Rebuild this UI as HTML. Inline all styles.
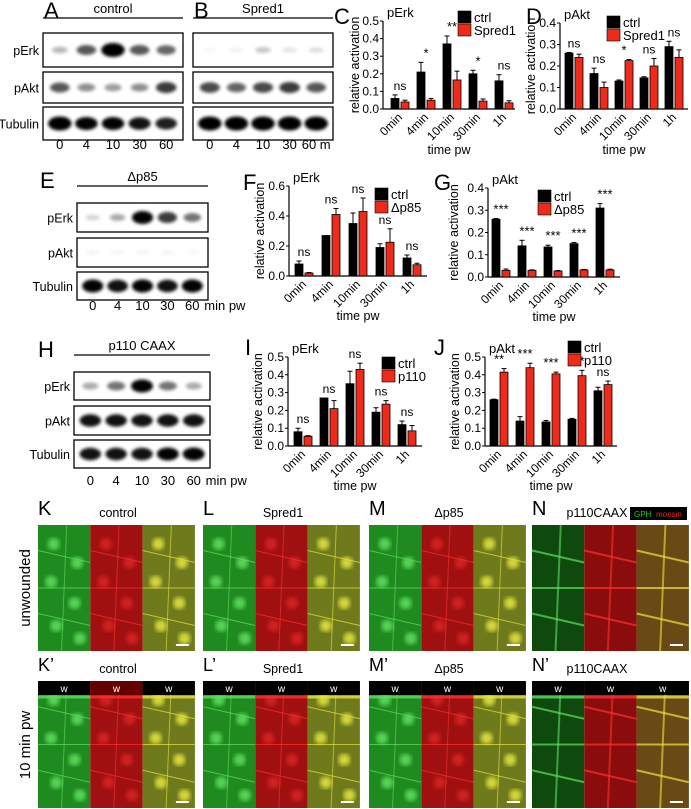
<!DOCTYPE html>
<html><head><meta charset="utf-8"><style>
html,body{margin:0;padding:0;background:#fff;}
svg{display:block;font-family:"Liberation Sans",sans-serif;}
</style></head><body>
<svg id="fig" width="691" height="809" viewBox="0 0 691 809" xmlns="http://www.w3.org/2000/svg">
<defs>
<filter id="blur1" x="-20%" y="-50%" width="140%" height="200%"><feGaussianBlur stdDeviation="1.6"/></filter>
<filter id="blur2"><feGaussianBlur stdDeviation="2.2"/></filter>
</defs>
<g id="blots"></g>
<g id="charts"></g>
<g id="micro"></g>
</svg>
<script>
// ---------- chart data ----------
const cats = ["0min","4min","10min","30min","1h"];
const cCtrl = [0.06,0.21,0.37,0.20,0.16];
const cCtrlErr = [0.02,0.055,0.045,0.02,0.035];
const cTreat = [0.04,0.05,0.165,0.045,0.035];
const cTreatErr = [0.01,0.01,0.05,0.012,0.012];
const cSig = ["ns","*","**","*","ns"];
const cTicks = ["0.0","0.1","0.2","0.3","0.4","0.5"];

const dCtrl = [0.26,0.165,0.13,0.145,0.29];
const dCtrlErr = [0.003,0.025,0.005,0.005,0.025];
const dTreat = [0.24,0.10,0.225,0.20,0.24];
const dTreatErr = [0.015,0.025,0.005,0.035,0.035];
const dSig = ["ns","ns","*","ns","ns"];
const dTicks = ["0.0","0.1","0.2","0.3","0.4"];

const fCtrl = [0.08,0.27,0.35,0.19,0.12];
const fCtrlErr = [0.02,0,0.07,0.025,0.02];
const fTreat = [0.02,0.41,0.43,0.225,0.075];
const fTreatErr = [0.003,0.04,0.09,0.09,0.01];
const fSig = ["ns","ns","ns","ns","ns"];
const fTicks = ["0.0","0.2","0.4","0.6"];

const gCtrl = [0.26,0.14,0.135,0.15,0.31];
const gCtrlErr = [0.003,0.025,0.008,0.005,0.02];
const gTreat = [0.03,0.03,0.027,0.032,0.032];
const gTreatErr = [0.006,0.002,0.002,0.002,0.003];
const gSig = ["***","***","***","***","***"];
const gTicks = ["0.0","0.1","0.2","0.3","0.4"];

const iCtrl = [0.08,0.27,0.35,0.19,0.12];
const iCtrlErr = [0.02,0,0.07,0.025,0.02];
const iTreat = [0.055,0.21,0.43,0.235,0.085];
const iTreatErr = [0.003,0.045,0.035,0.02,0.03];
const iSig = ["ns","ns","ns","ns","ns"];
const iTicks = ["0.0","0.1","0.2","0.3","0.4","0.5"];

const jCtrl = [0.26,0.14,0.135,0.15,0.31];
const jCtrlErr = [0.003,0.025,0.008,0.005,0.02];
const jTreat = [0.415,0.44,0.405,0.395,0.345];
const jTreatErr = [0.02,0.025,0.01,0.03,0.02];
const jSig = ["**","***","***","***","ns"];
const jTicks = ["0.0","0.1","0.2","0.3","0.4","0.5"];

const NS="http://www.w3.org/2000/svg";
function mk(parent,tag,attrs,text){const e=document.createElementNS(NS,tag);for(const k in attrs)e.setAttribute(k,attrs[k]);if(text!==undefined)e.textContent=text;parent.appendChild(e);return e;}

function chart(o){
  const g=mk(document.getElementById('charts'),'g',{});
  
  
  const ymax=parseFloat(o.ticks[o.ticks.length-1]);
  const y=v=>o.y0-(v/ymax)*(o.y0-o.yTop);
  const xg=i=>o.x0+o.off+i*o.step;
  const bw=8;
  const L=mk(g,'text',{x:o.lx,y:o.ly,'font-size':22},o.letter);
  
  const T=mk(g,'text',{x:o.x0+4,y:o.yTop-4,'font-size':13},o.title);
  
  const ya=mk(g,'line',{x1:o.x0,y1:o.yTop,x2:o.x0,y2:o.y0,stroke:'#000','stroke-width':1.2});
  
  o.ticks.forEach(t=>{const v=parseFloat(t);const yy=y(v);
    mk(g,'line',{x1:o.x0-3,y1:yy,x2:o.x0,y2:yy,stroke:'#000'});
    const tl=mk(g,'text',{x:o.x0-4,y:yy+4,'font-size':12,'text-anchor':'end'},t);
    });
  const xa=mk(g,'line',{x1:o.x0,y1:o.y0,x2:o.xEnd,y2:o.y0,stroke:'#000','stroke-width':1.2});
  
  const yt=mk(g,'text',{x:0,y:0,'font-size':12.5,'text-anchor':'middle',transform:`translate(${o.yl},${(o.y0+o.yTop)/2}) rotate(-90)`},'relative activation');
  
  const xt=mk(g,'text',{x:(o.x0+o.xEnd)/2,y:o.xtY,'font-size':12.5,'text-anchor':'middle'},'time pw');
  
  cats.forEach((c,i)=>{
    const gx=xg(i);
    const series=[[o.ctrl,o.ctrlErr,'#000',gx],[o.treat,o.treatErr,'#ee2a1b',gx+bw+2]];
    let top=0;
    series.forEach(([vals,errs,col,bx],si)=>{
      const v=vals[i],e=errs[i];const yy=y(v);
      const r=mk(g,'rect',{x:bx,y:yy,width:bw,height:o.y0-yy,fill:col,stroke:'#000','stroke-width':0.8});
      
      if(e>0){const ye=y(v+e);mk(g,'line',{x1:bx+bw/2,y1:yy,x2:bx+bw/2,y2:ye,stroke:'#000','stroke-width':1});
        mk(g,'line',{x1:bx+bw/2-2.5,y1:ye,x2:bx+bw/2+2.5,y2:ye,stroke:'#000','stroke-width':1});}
      top=Math.max(top,v+e);
    });
    const s=o.sig[i];
    const st=mk(g,'text',{x:gx+bw+1,y:y(top)-5,'font-size':s==='ns'?12:13,'text-anchor':'middle'},s);
    
    const cl=mk(g,'text',{x:0,y:0,'font-size':12,'text-anchor':'end',transform:`translate(${gx+bw+4},${o.y0+9}) rotate(-45)`},c);
    
  });
  const lg=mk(g,'g',{});
  
  [['ctrl','#000'],[o.tname,'#ee2a1b']].forEach(([n,col],k)=>{
    const yy=o.legY+k*13;
    const sq=mk(lg,'rect',{x:o.legX,y:yy,width:13,height:12,fill:col,stroke:'#000','stroke-width':0.6});
    
    const tx=mk(lg,'text',{x:o.legX+16,y:yy+11,'font-size':13},n);
    
  });
}
chart({id:'c',letter:'C',lx:334,ly:24,title:'pErk',x0:383,xEnd:515,y0:109,yTop:21,off:8,step:26,ticks:cTicks,ctrl:cCtrl,ctrlErr:cCtrlErr,treat:cTreat,treatErr:cTreatErr,sig:cSig,tname:'Spred1',legX:458,legY:11,yl:359,xtY:154});
chart({id:'d',letter:'D',lx:526,ly:24,title:'pAkt',x0:560,xEnd:688,y0:109,yTop:23,off:5,step:25,ticks:dTicks,ctrl:dCtrl,ctrlErr:dCtrlErr,treat:dTreat,treatErr:dTreatErr,sig:dSig,tname:'Spred1',legX:607,legY:16,yl:535,xtY:154});
chart({id:'f',letter:'F',lx:243,ly:190,title:'pErk',x0:289,xEnd:427,y0:276,yTop:186,off:6,step:27,ticks:fTicks,ctrl:fCtrl,ctrlErr:fCtrlErr,treat:fTreat,treatErr:fTreatErr,sig:fSig,tname:'\u0394p85',legX:375,legY:188,yl:264,xtY:320});
chart({id:'g',letter:'G',lx:434,ly:190,title:'pAkt',x0:488,xEnd:620,y0:277,yTop:188,off:4,step:26,ticks:gTicks,ctrl:gCtrl,ctrlErr:gCtrlErr,treat:gTreat,treatErr:gTreatErr,sig:gSig,tname:'\u0394p85',legX:538,legY:190,yl:458,xtY:321});
chart({id:'i',letter:'I',lx:245,ly:355,title:'pErk',x0:288,xEnd:422,y0:446,yTop:357,off:6,step:26,ticks:iTicks,ctrl:iCtrl,ctrlErr:iCtrlErr,treat:iTreat,treatErr:iTreatErr,sig:iSig,tname:'p110',legX:382,legY:357,yl:262,xtY:490});
chart({id:'j',letter:'J',lx:434,ly:355,title:'pAkt',x0:485,xEnd:617,y0:446,yTop:357,off:5,step:26,ticks:jTicks,ctrl:jCtrl,ctrlErr:jCtrlErr,treat:jTreat,treatErr:jTreatErr,sig:jSig,tname:'p110',legX:568,legY:341,yl:459,xtY:490});

// ---------- blots ----------
function blot(o){
  const B=document.getElementById('blots');
  const g=mk(B,'g',{});
  
  const L=mk(g,'text',{x:o.lx,y:o.ly,'font-size':22},o.letter);
  
  const t=mk(g,'text',{x:(o.x1+o.x2)/2,y:o.lineY-5,'font-size':13,'text-anchor':'middle'},o.title);
  
  mk(g,'line',{x1:o.x1,y1:o.lineY,x2:o.x2,y2:o.lineY,stroke:'#000','stroke-width':1.3});
  const names=['pErk','pAkt','Tubulin'];
  o.rows.forEach((r,k)=>{
    const bx=mk(g,'rect',{x:o.x1,y:r[0],width:o.x2-o.x1,height:r[1]-r[0],fill:'#fff',stroke:'#000','stroke-width':1.3});
    
    if(o.labels){const lb=mk(g,'text',{x:o.x1-4,y:(r[0]+r[1])/2+5,'font-size':12.5,'text-anchor':'end'},names[k]);
      }
    const cy=(r[0]+r[1])/2;
    o.band[k].forEach((a,i)=>{
      const cx=o.x1+(o.x2-o.x1)*(0.12+i*0.19);
      const w=(o.x2-o.x1)*0.07*(0.7+0.5*a);
      mk(g,'ellipse',{cx:cx,cy:cy,rx:w,ry:2+a*5,fill:'#000','fill-opacity':Math.min(1,a*1.1),filter:'url(#blur1)'});
    });
  });
  o.nums.forEach((n,i)=>{const cx=o.x1+(o.x2-o.x1)*(0.12+i*0.19);
    const tt=mk(g,'text',{x:cx,y:o.numY,'font-size':13,'text-anchor':'middle'},n);
    });
  if(o.minpw){const m=mk(g,'text',{x:o.x1+(o.x2-o.x1)*0.88+12,y:o.numY,'font-size':13},'min pw');
    }
}
blot({id:'a',letter:'A',lx:44,ly:18,title:'control',x1:43,x2:183,lineY:18,rows:[[33,67],[72,103],[107,140]],labels:true,
  band:[[0.25,0.6,1,0.6,0.55],[0.6,0.4,0.35,0.4,0.7],[1,0.9,0.9,0.85,0.8]],nums:['0','4','10','30','60'],numY:149});
blot({id:'b',letter:'B',lx:194,ly:18,title:'Spred1',x1:193,x2:333,lineY:18,rows:[[33,67],[72,103],[107,140]],labels:false,
  band:[[0.03,0.05,0.2,0.1,0.12],[0.65,0.55,0.65,0.7,0.6],[1,1,1,1,1]],nums:['0','4','10','30','60 m'],numY:149});
blot({id:'e',letter:'E',lx:40,ly:188,title:'\u0394p85',x1:77,x2:208,lineY:186,rows:[[203,232],[238,267],[272,300]],labels:true,
  band:[[0.15,0.3,0.9,0.7,0.5],[0.05,0.04,0.04,0.04,0.03],[0.9,0.85,0.9,0.85,0.9]],nums:['0','4','10','30','60'],numY:310,minpw:true});
blot({id:'h',letter:'H',lx:38,ly:357,title:'p110 CAAX',x1:74,x2:210,lineY:355,rows:[[372,400],[406,435],[440,468]],labels:true,
  band:[[0.3,0.5,0.9,0.5,0.3],[0.85,0.85,0.85,0.85,0.85],[0.85,0.85,0.85,0.9,0.9]],nums:['0','4','10','30','60'],numY:485,minpw:true});

// ---------- microscopy ----------
const M=document.getElementById('micro');
const groups=[['K','control',38],['L','Spred1',203],['M','\u0394p85',369],['N','p110CAAX',532]];
const cols=[['#1f8a1f','#5fe05f','#2fb02f'],['#a01010','#ff3030','#d02020'],['#6e7a1c','#e6e640','#b0a830']];
const nuc=[[0.3,0.15],[0.75,0.3],[0.25,0.45],[0.7,0.62],[0.35,0.8],[0.8,0.9]];
function panelRow(y0,h,wounded){
  groups.forEach(([L,t,x],gi)=>{
    const gg=mk(M,'g',{});
    
    const lt=mk(gg,'text',{x:x,y:y0-10,'font-size':wounded?18:20},L+(wounded?'\u2019':''));
    
    const tt=mk(gg,'text',{x:x+(gi==3?65:80),y:y0-8,'font-size':12.5,'text-anchor':'middle'},t);
    
    for(let s=0;s<3;s++){
      const px=x+s*52.3, pw=52.3;
      const c=cols[s];
      const bg= gi==3&&s==0?'#0e4a0e':(gi==3&&s==1?'#8a0c0c':(gi==3?'#6a4a14':c[0]));
      mk(gg,'rect',{x:px,y:y0,width:pw,height:h,fill:bg});
      for(let k=1;k<4;k++){mk(gg,'line',{x1:px,y1:y0+h*k/4-6*(k%2),x2:px+pw,y2:y0+h*k/4+6*(k%2),stroke:c[1],'stroke-width':gi==3?2:1,'stroke-opacity':0.7});}
      mk(gg,'line',{x1:px+pw*0.55,y1:y0,x2:px+pw*0.45,y2:y0+h,stroke:c[1],'stroke-width':gi==3?2:1,'stroke-opacity':0.6});
      if(gi!=3){nuc.forEach(([a,b])=>mk(gg,'circle',{cx:px+a*pw,cy:y0+b*h,r:6,fill:c[1],'fill-opacity':s==1?0.5:0.85,filter:'url(#blur2)'}));}
      if(wounded){
        mk(gg,'rect',{x:px,y:y0,width:pw,height:14,fill:s==1&&gi==0?'#600':'#000'});
        mk(gg,'line',{x1:px,y1:y0+16,x2:px+pw,y2:y0+16,stroke:c[1],'stroke-width':3,'stroke-opacity':0.8});
        const w=mk(gg,'text',{x:px+pw/2,y:y0+11,'font-size':10,fill:'#fff','text-anchor':'middle'},'w');
        
      }
      if(s==2){mk(gg,'rect',{x:px+pw-19,y:y0+h-7,width:13,height:2,fill:'#fff'});}
    }
  });
}
panelRow(525,126,false);
panelRow(681,127,true);
const gb=mk(M,'rect',{x:630,y:507,width:57,height:13,fill:'#000'});

mk(M,'text',{x:634,y:517,'font-size':8,fill:'#2c2'},'GPH');
mk(M,'text',{x:656,y:517,'font-size':8,fill:'#e22'},'moesin');
const u=mk(M,'text',{x:0,y:0,'font-size':15,'text-anchor':'middle',transform:'translate(30,588) rotate(-90)'},'unwounded');

const u2=mk(M,'text',{x:0,y:0,'font-size':15,'text-anchor':'middle',transform:'translate(30,745) rotate(-90)'},'10 min pw');

</script>
</body></html>
